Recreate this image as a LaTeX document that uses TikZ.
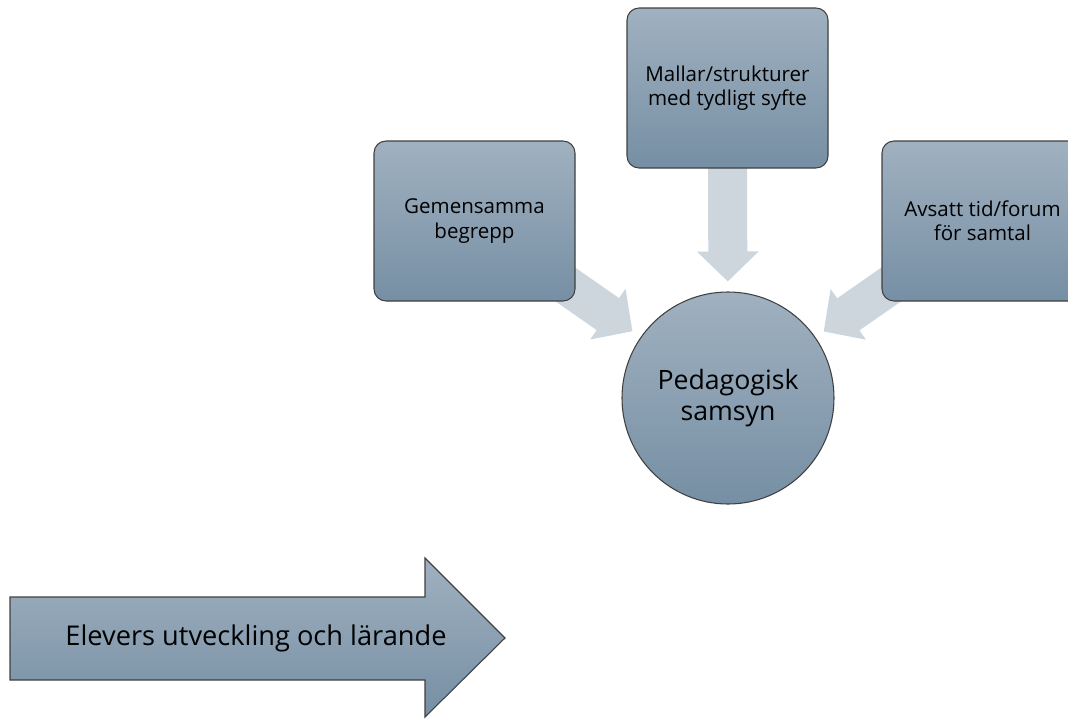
\documentclass[tikz,border=0pt]{standalone}
\usepackage{fontspec}
\setmainfont{Open Sans}
\usetikzlibrary{arrows.meta,backgrounds}
\definecolor{slatetop}{RGB}{160, 177, 192}
\definecolor{slatebottom}{RGB}{118, 143, 164}
\definecolor{slateedge}{RGB}{64, 64, 64}
\definecolor{mist}{RGB}{205, 213, 221}

\tikzset{
  slatebox/.style={draw=slateedge, line width=0.8pt, rounded corners=9pt,
                   top color=slatetop, bottom color=slatebottom,
                   minimum width=150.75pt, minimum height=120pt, inner sep=0pt,
                   align=center, font=\fontsize{15.4}{18.2}\selectfont},
  slatecircle/.style={circle, draw=slateedge, line width=0.8pt,
                   top color=slatetop, bottom color=slatebottom,
                   minimum size=159pt, inner sep=0pt,
                   align=center, font=\fontsize{20}{23}\selectfont},
  fatarrow/.style={mist, line width=29.25pt,
                   -{Triangle[width=45pt, length=22.5pt]}, shorten >=7.5pt}
}

\begin{document}
\begin{tikzpicture}[x=0.75pt, y=-0.75pt]
            % Frame
            \useasboundingbox                                                 (0, 0) rectangle (1068, 718);
            \clip                                                             (0, 0) rectangle (1068, 718);
            % Three sources
            \node[slatebox]    (begrepp) at (474.5, 221) {Gemensamma\\begrepp};
            \node[slatebox]    (mallar)  at (727.5,  88) {Mallar/strukturer\\med tydligt syfte};
            \node[slatebox]    (forum)   at (982.5, 221) {Avsatt tid/forum\\för samtal};
            % Common view
            \node[slatecircle] (samsyn)  at (728.0, 398) {Pedagogisk\\samsyn};
            % Fat arrows behind the boxes
            \begin{scope}[on background layer]
                \draw[fatarrow] (begrepp.center) -- (samsyn);
                \draw[fatarrow] (mallar.center)  -- (samsyn);
                \draw[fatarrow] (forum.center)   -- (samsyn);
            \end{scope}
            % Pupils arrow
            \draw[slateedge, line width=0.8pt, top color=slatetop, bottom color=slatebottom]
                 (10, 597) -- (425, 597) -- (425, 558) -- (505, 638) -- (425, 717) -- (425, 680) -- (10, 680) -- cycle;
            \node[font=\fontsize{20.4}{23}\selectfont] (lerande) at (256, 638) {Elevers utveckling och lärande};
        \end{tikzpicture}
\end{document}
